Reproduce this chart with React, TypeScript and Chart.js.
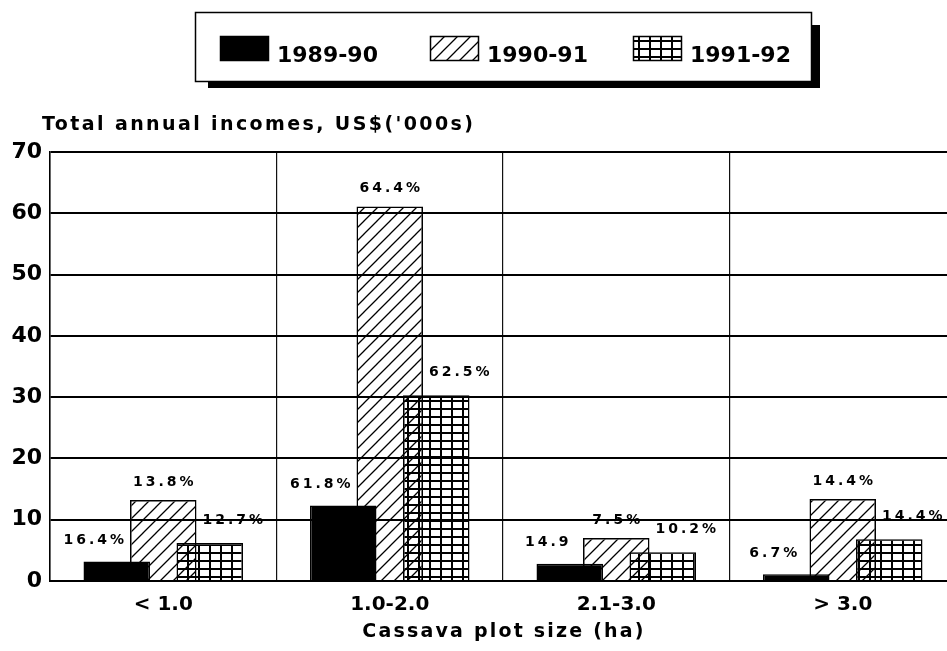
import React, { useEffect, useRef } from "react";
import { Chart, registerables } from "chart.js";

Chart.register(...registerables);

// ---- data ----
const categories = ["< 1.0", "1.0-2.0", "2.1-3.0", "> 3.0"];
const seriesNames = ["1989-90", "1990-91", "1991-92"];
const income8990 = [3.2, 12.3, 2.8, 1.1];
const income9091 = [13.2, 61.1, 7.0, 13.4];
const income9192 = [6.2, 30.3, 4.7, 6.8];
const share8990 = ["16.4%", "61.8%", "14.9", "6.7%"];
const share9091 = ["13.8%", "64.4%", "7.5%", "14.4%"];
const share9192 = ["12.7%", "62.5%", "10.2%", "14.4%"];
const yMin = 0;
const yMax = 70;
const yStep = 10;
const yAxisTitle = "Total annual incomes, US$('000s)";
const xAxisTitle = "Cassava plot size (ha)";

const FONT = '"DejaVu Sans", "Liberation Sans", Arial, sans-serif';

function makeHatch(ctx: CanvasRenderingContext2D) {
  const s = 13;
  const c = document.createElement("canvas");
  c.width = s;
  c.height = s;
  const g = c.getContext("2d")!;
  g.strokeStyle = "#000";
  g.lineWidth = 1.3;
  g.beginPath();
  g.moveTo(-1, s + 1);
  g.lineTo(s + 1, -1);
  g.moveTo(-2, 2);
  g.lineTo(2, -2);
  g.moveTo(s - 2, s + 2);
  g.lineTo(s + 2, s - 2);
  g.stroke();
  return ctx.createPattern(c, "repeat")!;
}

function makeGrid(ctx: CanvasRenderingContext2D) {
  const c = document.createElement("canvas");
  c.width = 11;
  c.height = 8;
  const g = c.getContext("2d")!;
  g.fillStyle = "#000";
  g.fillRect(0, 0, 2, 8);
  g.fillRect(0, 0, 11, 2);
  return ctx.createPattern(c, "repeat")!;
}

const labelSets = [share8990, share9091, share9192];
const labelOffsets = [
  { dx: -23, dy: 21 },
  { dx: 0, dy: 18 },
  { dx: 23, dy: 23 },
];
const drawOrder = [1, 0, 2];

const drawOrderPlugin = {
  id: "drawOrder",
  beforeDatasetsDraw(chart: any) {
    for (const i of drawOrder) {
      const meta = chart.getDatasetMeta(i);
      if (!meta.hidden) meta.controller.draw();
    }
    return false;
  },
};

const decorPlugin = {
  id: "decor",
  afterDraw(chart: any) {
    const ctx: any = chart.ctx;
    // bar value labels
    ctx.save();
    ctx.font = `bold 14px ${FONT}`;
    ctx.letterSpacing = "3px";
    ctx.textAlign = "center";
    ctx.textBaseline = "middle";
    ctx.fillStyle = "#000";
    labelSets.forEach((labels, i) => {
      const meta = chart.getDatasetMeta(i);
      meta.data.forEach((el: any, j: number) => {
        const p = el.getProps(["x", "y"], true);
        ctx.fillText(labels[j], p.x + labelOffsets[i].dx + 1.5, p.y - labelOffsets[i].dy);
      });
    });
    ctx.restore();

    // y axis title (horizontal, top-left)
    ctx.save();
    ctx.font = `bold 19px ${FONT}`;
    ctx.letterSpacing = "2.4px";
    ctx.textAlign = "left";
    ctx.textBaseline = "alphabetic";
    ctx.fillStyle = "#000";
    ctx.fillText(yAxisTitle, 42, 130);
    // x axis title
    ctx.letterSpacing = "2.2px";
    ctx.textAlign = "center";
    const ca = chart.chartArea;
    ctx.fillText(xAxisTitle, (ca.left + ca.right) / 2 + 1, 637);
    ctx.restore();

    // legend box with drop shadow
    ctx.save();
    ctx.fillStyle = "#000";
    ctx.fillRect(208, 25, 612, 63);
    ctx.fillStyle = "#fff";
    ctx.fillRect(195, 12, 617, 70);
    ctx.strokeStyle = "#000";
    ctx.lineWidth = 1.5;
    ctx.strokeRect(195.5, 12.5, 616, 69);
    const swX = [220, 430, 633];
    ctx.font = `bold 22px ${FONT}`;
    ctx.textAlign = "left";
    ctx.textBaseline = "alphabetic";
    chart.data.datasets.forEach((ds: any, i: number) => {
      const x = swX[i];
      ctx.fillStyle = ds.backgroundColor;
      ctx.fillRect(x, 36, 49, 25);
      ctx.lineWidth = 1.5;
      ctx.strokeStyle = "#000";
      ctx.strokeRect(x + 0.5, 36.5, 48, 24);
      ctx.fillStyle = "#000";
      ctx.fillText(seriesNames[i], x + 57, 62);
    });
    ctx.restore();
  },
};

export default function App() {
  const ref = useRef<HTMLCanvasElement>(null);

  useEffect(() => {
    const canvas = ref.current!;
    const ctx = canvas.getContext("2d")!;
    const hatch = makeHatch(ctx);
    const grid = makeGrid(ctx);
    const common = {
      borderColor: "#000",
      borderWidth: 1.5,
      categoryPercentage: 0.616,
      barPercentage: 1.43,
    };
    const chart = new Chart(ctx, {
      type: "bar",
      data: {
        labels: categories,
        datasets: [
          { label: seriesNames[0], data: income8990, backgroundColor: "#000", ...common },
          { label: seriesNames[1], data: income9091, backgroundColor: hatch as any, ...common },
          { label: seriesNames[2], data: income9192, backgroundColor: grid as any, ...common },
        ],
      },
      options: {
        responsive: false,
        animation: false,
        layout: { padding: { top: 152, right: 4, left: 0, bottom: 0 } },
        plugins: {
          legend: { display: false },
          tooltip: { enabled: false },
        },
        scales: {
          x: {
            offset: true,
            grid: { offset: true, color: "#111", lineWidth: 1.2, drawTicks: false },
            border: { color: "#000", width: 2 },
            ticks: {
              font: { family: FONT, weight: "bold", size: 20 },
              color: "#000",
              padding: 12,
            },
            afterFit(s: any) {
              s.height = 70;
            },
          },
          y: {
            min: yMin,
            max: yMax,
            ticks: {
              stepSize: yStep,
              font: { family: FONT, weight: "bold", size: 22 },
              color: "#000",
              padding: 8,
            },
            grid: { color: "#000", lineWidth: 2, drawTicks: false },
            border: { color: "#000", width: 1.5 },
            afterFit(s: any) {
              s.width = 50;
            },
          },
        },
      } as any,
      plugins: [drawOrderPlugin, decorPlugin],
    });
    return () => chart.destroy();
  }, []);

  return (
    <div
      style={{
        position: "absolute",
        left: 0,
        top: 0,
        width: 947,
        height: 651,
        overflow: "hidden",
        background: "#fff",
      }}
    >
      <canvas ref={ref} width={960} height={651} style={{ display: "block", width: 960, height: 651 }} />
    </div>
  );
}
